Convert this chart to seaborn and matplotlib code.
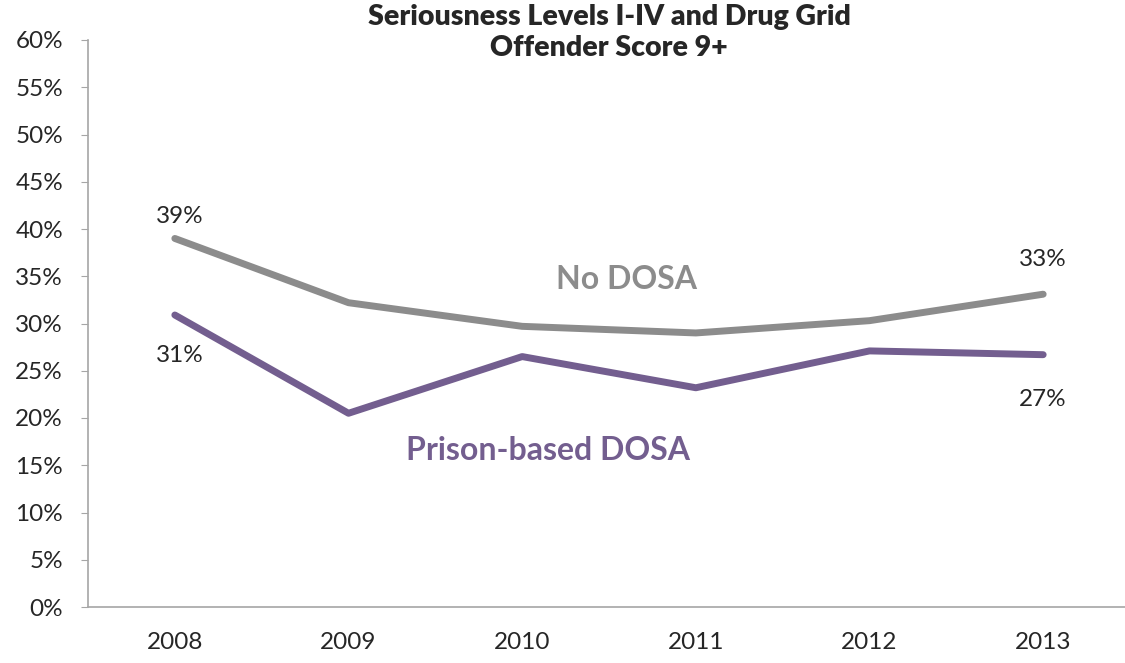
import pandas as pd
import matplotlib.pyplot as plt
import seaborn as sns

years = ["2008", "2009", "2010", "2011", "2012", "2013"]
no_dosa = [39.0, 32.2, 29.7, 29.0, 30.3, 33.1]
prison_dosa = [30.9, 20.5, 26.5, 23.2, 27.1, 26.7]
yticks = list(range(0, 61, 5))

df = pd.DataFrame({
    "Year": years * 2,
    "Rate": no_dosa + prison_dosa,
    "Group": ["No DOSA"] * 6 + ["Prison-based DOSA"] * 6,
})

sns.set_style("white")
plt.rcParams["font.family"] = ["Lato", "DejaVu Sans"]

grey = "#8c8c8c"
purple = "#735e8f"

fig = plt.figure(figsize=(11.25, 6.63), dpi=100)
ax = fig.add_axes([88 / 1125, 1 - 607 / 663, (1130 - 88) / 1125, (607 - 40) / 663])

sns.lineplot(data=df, x="Year", y="Rate", hue="Group",
             palette={"No DOSA": grey, "Prison-based DOSA": purple},
             linewidth=5, legend=False, ax=ax)
for line in ax.lines:
    line.set_solid_capstyle("round")

ax.set_xlim(-0.5, 5.5)
ax.set_ylim(0, 60)
ax.set_yticks(yticks)
ax.set_yticklabels([f"{t}%" for t in yticks], fontsize=17.5)
ax.set_xticks(range(6))
ax.set_xticklabels(years, fontsize=17.5)
ax.set_xticks([i + 0.5 for i in range(-1, 6)], minor=True)
ax.tick_params(axis="x", which="major", length=0, pad=18)
ax.tick_params(axis="x", which="minor", length=7, color="#a6a6a6", direction="out")
ax.tick_params(axis="y", length=5, color="#a6a6a6", direction="out", left=True, pad=13)
ax.set_xlabel("")
ax.set_ylabel("")

for side in ["top", "right"]:
    ax.spines[side].set_visible(False)
for side in ["left", "bottom"]:
    ax.spines[side].set_color("#a6a6a6")
    ax.spines[side].set_linewidth(1.2)

# data labels at the ends
ax.text(0.03, no_dosa[0] + 1.2, f"{no_dosa[0]:.0f}%", ha="center", va="bottom", fontsize=17.5)
ax.text(0.03, prison_dosa[0] - 3.2, f"{prison_dosa[0]:.0f}%", ha="center", va="top", fontsize=17.5)
ax.text(5.0, no_dosa[5] + 2.6, f"{no_dosa[5]:.0f}%", ha="center", va="bottom", fontsize=17.5)
ax.text(5.0, prison_dosa[5] - 3.6, f"{prison_dosa[5]:.0f}%", ha="center", va="top", fontsize=17.5)

# series names
ax.text(2.6, 34.7, "No DOSA", color=grey, fontsize=23, fontweight="bold", ha="center", va="center")
ax.text(2.15, 16.6, "Prison-based DOSA", color=purple, fontsize=23, fontweight="bold", ha="center", va="center")

fig.text(609 / 1125, 1 - 4 / 663, "Seriousness Levels I-IV and Drug Grid\nOffender Score 9+",
         ha="center", va="top", fontsize=20.5, fontweight="heavy", linespacing=1.25)

fig.savefig("out.png", dpi=100)
